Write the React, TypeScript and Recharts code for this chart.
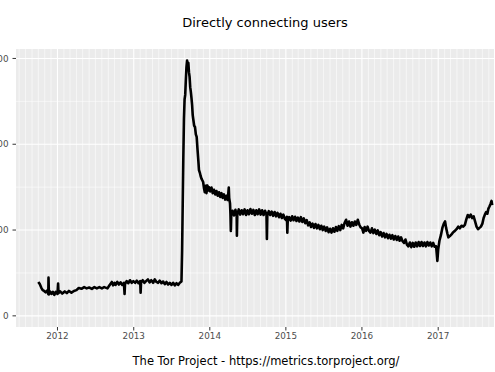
import React from "react";
import { LineChart, Line, XAxis, YAxis, CartesianGrid } from "recharts";

const titleText = "Directly connecting users";
const captionText = "The Tor Project - https://metrics.torproject.org/";

const yearTicks = ["2012-01-01", "2013-01-01", "2014-01-01", "2015-01-01", "2016-01-01", "2017-01-01"];
const yMajor = [0, 2, 4, 6];
const yMinor = [1, 3, 5];

// dates and directly connecting users (millions)
const dates = [
  "2011-10-01","2011-10-08","2011-10-15","2011-10-22","2011-10-29","2011-11-05","2011-11-12","2011-11-18","2011-11-19","2011-11-21",
  "2011-11-26","2011-12-03","2011-12-10","2011-12-17","2011-12-24","2012-01-01","2012-01-04","2012-01-06","2012-01-14","2012-01-24",
  "2012-02-05","2012-02-15","2012-02-25","2012-03-08","2012-03-20","2012-04-01","2012-04-12","2012-04-25","2012-05-08","2012-05-20",
  "2012-06-01","2012-06-14","2012-06-26","2012-07-08","2012-07-20","2012-08-01","2012-08-12","2012-08-28","2012-09-05","2012-09-12",
  "2012-09-18","2012-09-24","2012-10-01","2012-10-06","2012-10-14","2012-10-22","2012-10-30","2012-11-07","2012-11-15","2012-11-18",
  "2012-11-20","2012-11-28","2012-12-06","2012-12-14","2012-12-22","2012-12-30","2013-01-08","2013-01-16","2013-01-24","2013-02-01",
  "2013-02-03","2013-02-05","2013-02-13","2013-02-21","2013-03-01","2013-03-10","2013-03-18","2013-03-26","2013-04-04","2013-04-12",
  "2013-04-20","2013-04-28","2013-05-06","2013-05-14","2013-05-22","2013-05-30","2013-06-07","2013-06-15","2013-06-23","2013-07-01",
  "2013-07-09","2013-07-17","2013-07-25","2013-08-02","2013-08-10","2013-08-18","2013-08-21","2013-08-24","2013-08-27","2013-08-30",
  "2013-09-02","2013-09-05","2013-09-08","2013-09-11","2013-09-14","2013-09-17","2013-09-20","2013-09-23","2013-09-26","2013-09-29",
  "2013-10-02","2013-10-05","2013-10-08","2013-10-11","2013-10-14","2013-10-18","2013-10-22","2013-10-26","2013-10-30","2013-11-03",
  "2013-11-07","2013-11-10","2013-11-14","2013-11-18","2013-11-22","2013-11-26","2013-11-30","2013-12-04","2013-12-08","2013-12-12",
  "2013-12-16","2013-12-20","2013-12-24","2013-12-28","2014-01-03","2014-01-09","2014-01-15","2014-01-21","2014-01-27","2014-02-02",
  "2014-02-08","2014-02-14","2014-02-20","2014-02-26","2014-03-04","2014-03-10","2014-03-16","2014-03-22","2014-03-28","2014-04-02",
  "2014-04-04","2014-04-08","2014-04-10","2014-04-12","2014-04-14","2014-04-20","2014-04-27","2014-05-04","2014-05-10","2014-05-11",
  "2014-05-13","2014-05-20","2014-05-27","2014-06-03","2014-06-10","2014-06-17","2014-06-24","2014-07-01","2014-07-08","2014-07-15",
  "2014-07-22","2014-07-29","2014-08-05","2014-08-12","2014-08-19","2014-08-26","2014-09-02","2014-09-09","2014-09-16","2014-09-23",
  "2014-09-30","2014-10-02","2014-10-04","2014-10-11","2014-10-18","2014-10-25","2014-11-01","2014-11-08","2014-11-15","2014-11-22",
  "2014-11-29","2014-12-06","2014-12-13","2014-12-20","2014-12-27","2015-01-03","2015-01-06","2015-01-08","2015-01-10","2015-01-17",
  "2015-01-24","2015-01-31","2015-02-07","2015-02-14","2015-02-21","2015-02-28","2015-03-07","2015-03-14","2015-03-21","2015-03-28",
  "2015-04-04","2015-04-11","2015-04-18","2015-04-25","2015-05-02","2015-05-09","2015-05-16","2015-05-23","2015-05-30","2015-06-06",
  "2015-06-13","2015-06-20","2015-06-27","2015-07-04","2015-07-11","2015-07-18","2015-07-25","2015-08-01","2015-08-08","2015-08-15",
  "2015-08-22","2015-08-29","2015-09-05","2015-09-12","2015-09-19","2015-09-26","2015-10-03","2015-10-10","2015-10-17","2015-10-24",
  "2015-10-31","2015-11-07","2015-11-14","2015-11-21","2015-11-28","2015-12-05","2015-12-12","2015-12-19","2015-12-26","2016-01-02",
  "2016-01-08","2016-01-14","2016-01-21","2016-01-28","2016-02-04","2016-02-11","2016-02-18","2016-02-25","2016-03-03","2016-03-10",
  "2016-03-17","2016-03-24","2016-03-31","2016-04-07","2016-04-14","2016-04-21","2016-04-28","2016-05-05","2016-05-12","2016-05-19",
  "2016-05-26","2016-06-02","2016-06-09","2016-06-16","2016-06-23","2016-06-30","2016-07-07","2016-07-14","2016-07-21","2016-07-28",
  "2016-08-04","2016-08-11","2016-08-18","2016-08-25","2016-09-01","2016-09-08","2016-09-15","2016-09-22","2016-09-29","2016-10-06",
  "2016-10-13","2016-10-20","2016-10-27","2016-11-03","2016-11-10","2016-11-17","2016-11-24","2016-12-01","2016-12-08","2016-12-15",
  "2016-12-22","2016-12-28","2017-01-01","2017-01-07","2017-01-14","2017-01-21","2017-01-28","2017-02-03","2017-02-08","2017-02-14",
  "2017-02-19","2017-02-26","2017-03-06","2017-03-14","2017-03-22","2017-03-30","2017-04-07","2017-04-15","2017-04-23","2017-05-01",
  "2017-05-09","2017-05-16","2017-05-23","2017-05-30","2017-06-06","2017-06-13","2017-06-20","2017-06-27","2017-07-04","2017-07-11",
  "2017-07-18","2017-07-25","2017-08-01","2017-08-07","2017-08-13","2017-08-19","2017-08-25","2017-08-30","2017-09-04","2017-09-10",
  "2017-09-14","2017-09-17"
];

const users = [
  0.79,0.74,0.66,0.60,0.58,0.55,0.59,0.51,0.89,0.50,
  0.57,0.51,0.56,0.49,0.56,0.51,0.75,0.53,0.57,0.52,
  0.57,0.53,0.58,0.54,0.58,0.60,0.65,0.63,0.67,0.64,
  0.66,0.63,0.67,0.64,0.67,0.64,0.67,0.64,0.70,0.75,
  0.79,0.71,0.77,0.72,0.79,0.73,0.78,0.72,0.77,0.51,
  0.74,0.81,0.76,0.83,0.77,0.81,0.77,0.82,0.76,0.81,
  0.54,0.78,0.83,0.77,0.81,0.85,0.78,0.83,0.77,0.85,
  0.79,0.77,0.82,0.76,0.80,0.74,0.79,0.73,0.77,0.72,
  0.77,0.71,0.76,0.72,0.77,0.80,1.50,2.60,3.70,4.60,
  5.05,5.15,5.50,5.80,5.95,5.82,5.90,5.68,5.57,5.33,
  5.22,5.08,4.92,4.68,4.57,4.43,4.40,4.23,4.17,3.88,
  3.62,3.40,3.34,3.26,3.20,3.16,3.12,2.98,2.88,3.03,
  2.86,3.04,2.92,3.00,2.90,2.99,2.86,2.94,2.83,2.91,
  2.80,2.88,2.77,2.86,2.75,2.83,2.71,2.80,2.70,2.99,
  2.75,2.62,2.38,1.98,2.34,2.45,2.34,2.47,2.33,1.87,
  2.36,2.48,2.36,2.46,2.37,2.48,2.35,2.46,2.37,2.49,
  2.38,2.47,2.35,2.46,2.37,2.48,2.36,2.46,2.35,2.45,
  2.36,1.79,2.34,2.44,2.35,2.43,2.33,2.42,2.32,2.40,
  2.30,2.38,2.28,2.36,2.26,2.23,2.31,1.94,2.21,2.30,
  2.22,2.32,2.23,2.31,2.21,2.29,2.20,2.30,2.19,2.27,
  2.16,2.23,2.11,2.18,2.07,2.15,2.05,2.14,2.04,2.12,
  2.02,2.10,2.00,2.08,1.98,2.06,1.95,2.03,1.94,2.04,
  1.96,2.07,1.98,2.09,2.00,2.12,2.04,2.17,2.24,2.10,
  2.20,2.08,2.18,2.10,2.20,2.12,2.24,2.13,2.06,2.04,
  1.94,2.07,1.98,2.08,1.98,1.94,2.04,1.93,2.01,1.91,
  1.99,1.88,1.95,1.85,1.93,1.83,1.91,1.81,1.89,1.80,
  1.88,1.78,1.86,1.77,1.85,1.75,1.83,1.74,1.70,1.78,
  1.66,1.62,1.71,1.60,1.70,1.61,1.71,1.62,1.72,1.63,
  1.72,1.63,1.71,1.62,1.72,1.64,1.71,1.62,1.70,1.61,
  1.62,1.28,1.55,1.75,1.88,2.05,2.15,2.20,2.05,1.92,
  1.83,1.86,1.90,1.95,1.98,2.02,2.08,2.04,2.10,2.08,
  2.12,2.25,2.35,2.30,2.36,2.28,2.32,2.20,2.08,2.02,
  2.05,2.08,2.15,2.28,2.36,2.42,2.38,2.50,2.55,2.62,
  2.68,2.58
];

const data = dates.map((d, i) => ({ t: Date.parse(d), v: users[i] }));

const xDomain = [Date.UTC(2011, 5, 16), Date.UTC(2017, 8, 25, 19)];
const yDomain = [-0.26, 6.22];

const xMajor = yearTicks.map((d) => Date.parse(d));
const xMinor: number[] = [];
for (let y = 2011; y <= 2017; y++) {
  for (let m = 1; m < 12; m++) {
    const ts = Date.UTC(y, m, 1);
    if (ts > xDomain[0] && ts < xDomain[1]) xMinor.push(ts);
  }
}

const fmtY = (v: number) => {
  if (v === 0) return "0";
  const s = String(Math.round(v * 1000000));
  return s.replace(/\B(?=(\d{3})+(?!\d))/g, " ");
};

const FONT = "'DejaVu Sans', sans-serif";

const YTick = (props: any) => {
  const { x, y, payload } = props;
  return (
    <text x={x} y={y} dy="0.355em" textAnchor="end" fill="#4D4D4D" fontSize={8.8} fontFamily={FONT}>
      {fmtY(payload.value)}
    </text>
  );
};

const XTick = (props: any) => {
  const { x, y, payload } = props;
  return (
    <text x={x} y={y} dy="0.71em" textAnchor="middle" fill="#4D4D4D" fontSize={8.8} fontFamily={FONT}>
      {String(new Date(payload.value).getUTCFullYear())}
    </text>
  );
};

export default function App() {
  return (
    <div style={{ position: "absolute", left: 0, top: 0, width: 495, height: 372, background: "#fff" }}>
      <LineChart
        width={495}
        height={372}
        data={data}
        margin={{ top: 49, right: 1, bottom: 25, left: 0 }}
      >
        <CartesianGrid
          fill="#EBEBEB"
          fillOpacity={1}
          stroke="#FFFFFF"
          strokeWidth={0.55}
          horizontalValues={yMinor}
          verticalValues={xMinor}
        />
        <CartesianGrid
          stroke="#FFFFFF"
          strokeWidth={1.1}
          horizontalValues={yMajor}
          verticalValues={xMajor}
        />
        <XAxis
          dataKey="t"
          type="number"
          domain={xDomain}
          allowDataOverflow
          ticks={xMajor}
          axisLine={false}
          tickSize={3.5}
          tickMargin={2}
          height={20}
          tickLine={{ stroke: "#333333", strokeWidth: 1 }}
          tick={<XTick />}
          interval={0}
        />
        <YAxis
          type="number"
          domain={yDomain}
          allowDataOverflow
          ticks={yMajor}
          axisLine={false}
          width={16}
          tickSize={3.5}
          tickMargin={4}
          tickLine={{ stroke: "#333333", strokeWidth: 1 }}
          tick={<YTick />}
          interval={0}
        />
        <Line
          type="linear"
          dataKey="v"
          stroke="#000000"
          strokeWidth={2.6}
          dot={false}
          isAnimationActive={false}
          strokeLinejoin="round"
        />
      </LineChart>
      <svg
        width={495}
        height={372}
        style={{ position: "absolute", left: 0, top: 0, pointerEvents: "none" }}
      >
        <text x={265} y={27} textAnchor="middle" fontFamily={FONT} fontSize={13} fill="#000">
          {titleText}
        </text>
        <text x={266} y={365} textAnchor="middle" fontFamily={FONT} fontSize={11.5} fill="#000">
          {captionText}
        </text>
      </svg>
    </div>
  );
}
